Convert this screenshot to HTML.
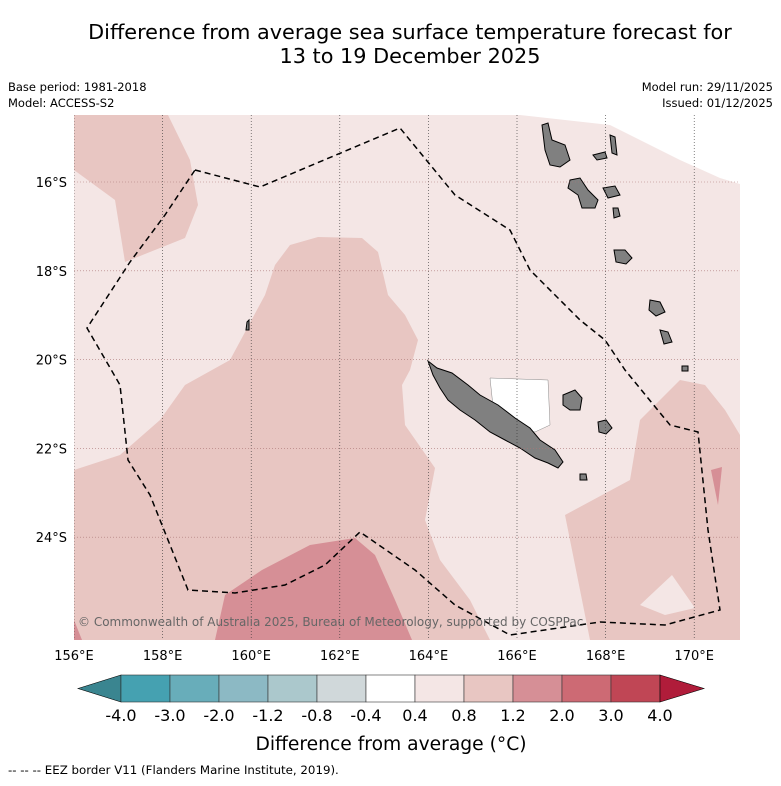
<!DOCTYPE html>
<html><head><meta charset="utf-8"><style>
body{margin:0;background:#fff;font-family:"Liberation Sans","DejaVu Sans",sans-serif}
</style></head><body>
<svg width="781" height="781" viewBox="0 0 781 781" xmlns="http://www.w3.org/2000/svg" font-family="'DejaVu Sans','Liberation Sans',sans-serif">
<text x="410" y="39" text-anchor="middle" font-size="20.8">Difference from average sea surface temperature forecast for</text>
<text x="410" y="63" text-anchor="middle" font-size="20.8">13 to 19 December 2025</text>
<text x="8" y="91" font-size="11.5">Base period: 1981-2018</text>
<text x="8" y="107" font-size="11.5">Model: ACCESS-S2</text>
<text x="773" y="91" font-size="11.5" text-anchor="end">Model run: 29/11/2025</text>
<text x="773" y="107" font-size="11.5" text-anchor="end">Issued: 01/12/2025</text>
<defs><clipPath id="mc"><rect x="74" y="115" width="666" height="525"/></clipPath></defs>
<g clip-path="url(#mc)">
<rect x="74" y="115" width="666" height="525" fill="#f4e6e5"/>
<polygon points="520,115 740,115 740,184 720,178 680,160 610,125" fill="#fff"/>
<g fill="#e8c6c2">
<polygon points="74,115 168,115 190,160 198,205 185,238 125,262 115,200 74,170"/>
<polygon points="74,470 120,455 160,420 185,385 230,360 265,295 275,265 290,245 318,237 362,238 378,252 388,295 405,315 418,340 410,370 402,385 405,425 435,468 425,520 440,560 470,600 490,640 74,640"/>
<polygon points="565,515 630,480 640,420 680,380 705,385 725,410 740,435 740,640 590,640 580,590"/>
</g>
<polygon points="640,605 672,575 695,608 665,615" fill="#f4e6e5"/>
<g fill="#d68f96">
<polygon points="215,640 225,595 262,570 310,545 355,538 375,555 395,600 412,640"/>
<polygon points="74,620 82,640 74,640"/>
<polygon points="711,470 722,467 718,505"/>
</g>
<polygon points="490,378 548,380 550,425 535,432 495,425" fill="#fff" stroke="#888" stroke-width="0.5"/>
<g fill="#808080" stroke="#000" stroke-width="1">
<polygon points="428,361 437,368 452,373 468,385 480,395 498,405 515,418 530,428 540,440 555,450 563,462 558,468 548,463 535,458 520,448 505,440 490,432 475,420 460,410 448,400 440,388 433,375"/>
<polygon points="542,125 548,123 552,140 565,145 570,160 560,167 550,165 545,150"/>
<polygon points="570,180 580,178 588,190 598,200 595,208 582,208 578,195 568,188"/>
<polygon points="593,155 605,152 607,158 597,160"/>
<polygon points="603,188 615,186 620,195 608,198"/>
<polygon points="610,135 615,137 617,155 612,153"/>
<polygon points="614,250 625,250 632,258 626,264 616,262"/>
<polygon points="650,300 660,302 665,312 656,316 649,310"/>
<polygon points="660,330 668,332 672,342 664,344"/>
<polygon points="563,395 575,390 582,398 580,410 570,410 563,405"/>
<polygon points="598,422 606,420 612,428 606,434 599,432"/>
<polygon points="580,474 586,474 587,480 580,480"/>
<polygon points="682,366 688,366 688,371 682,371"/>
<polygon points="247,322 249,320 249,330 246,330"/>
<polygon points="613,208 618,208 620,216 614,218"/>
</g>
<g stroke="#333" stroke-width="0.6" stroke-dasharray="1,2" id="grid"></g>
<polyline points="195,170 260,187 400,128 455,195 510,230 530,270 580,320 605,340 625,370 670,425 698,432 708,530 720,610 665,625 600,622 510,635 455,605 415,570 360,532 325,565 285,585 235,593 188,590 150,495 128,460 120,385 87,328 130,262 165,215 195,170" fill="none" stroke="#000" stroke-width="1.5" stroke-dasharray="6,4"/>
<text x="78" y="626" font-size="12" fill="#666">© Commonwealth of Australia 2025, Bureau of Meteorology, supported by COSPPac</text>
</g>
<g id="ticks" font-size="13"></g>
<g id="cbar"></g>
<text x="391" y="750" text-anchor="middle" font-size="18.7">Difference from average (°C)</text>
<text x="8" y="774" font-size="11.8">--  --  -- EEZ border V11 (Flanders Marine Institute, 2019).</text>
</svg>
<script>
const lonTicks=[156,158,160,162,164,166,168,170];
const latTicks=[16,18,20,22,24];
const cbLevels=["-4.0","-3.0","-2.0","-1.2","-0.8","-0.4","0.4","0.8","1.2","2.0","3.0","4.0"];
const cbColors=["#45a1b1","#68adba","#8cb9c4","#abc8cc","#d0d8da","#ffffff","#f4e6e5","#e8c6c2","#d68f96","#cd6a74","#c04655"];
const ns="http://www.w3.org/2000/svg";
const X=l=>74+(l-156)*44.3, Y=la=>182+(la-16)*44.4;
const grid=document.getElementById('grid'), ticks=document.getElementById('ticks');
function mk(t,a,p){const e=document.createElementNS(ns,t);for(const k in a)e.setAttribute(k,a[k]);p.appendChild(e);return e;}
lonTicks.forEach(l=>{const g=mk('line',{x1:X(l),x2:X(l),y1:115,y2:640},grid);


const t=mk('text',{x:X(l),y:660,'text-anchor':'middle'},ticks);t.textContent=l+'°E';

});
latTicks.forEach(la=>{const g=mk('line',{x1:74,x2:740,y1:Y(la),y2:Y(la),stroke:'#a77'},grid);


const t=mk('text',{x:67,y:Y(la)+5,'text-anchor':'end'},ticks);t.textContent=la+'°S';

});
const cb=document.getElementById('cbar');const x0=121,w=49,y0=675,h=27;
const lt=mk('polygon',{points:`78,${y0+h/2} ${x0},${y0} ${x0},${y0+h}`,fill:'#3a8590',stroke:'#000','stroke-width':0.6},cb);


cbColors.forEach((c,i)=>{const r=mk('rect',{x:x0+i*w,y:y0,width:w,height:h,fill:c,stroke:'#333','stroke-width':0.6},cb);

});
const xe=x0+cbColors.length*w;
const rt=mk('polygon',{points:`${xe},${y0} ${xe+44},${y0+h/2} ${xe},${y0+h}`,fill:'#b01c3a',stroke:'#000','stroke-width':0.6},cb);


cbLevels.forEach((v,i)=>{const t=mk('text',{x:x0+i*w,y:721,'text-anchor':'middle','font-size':16},cb);t.textContent=v;

});
</script>
</body></html>
